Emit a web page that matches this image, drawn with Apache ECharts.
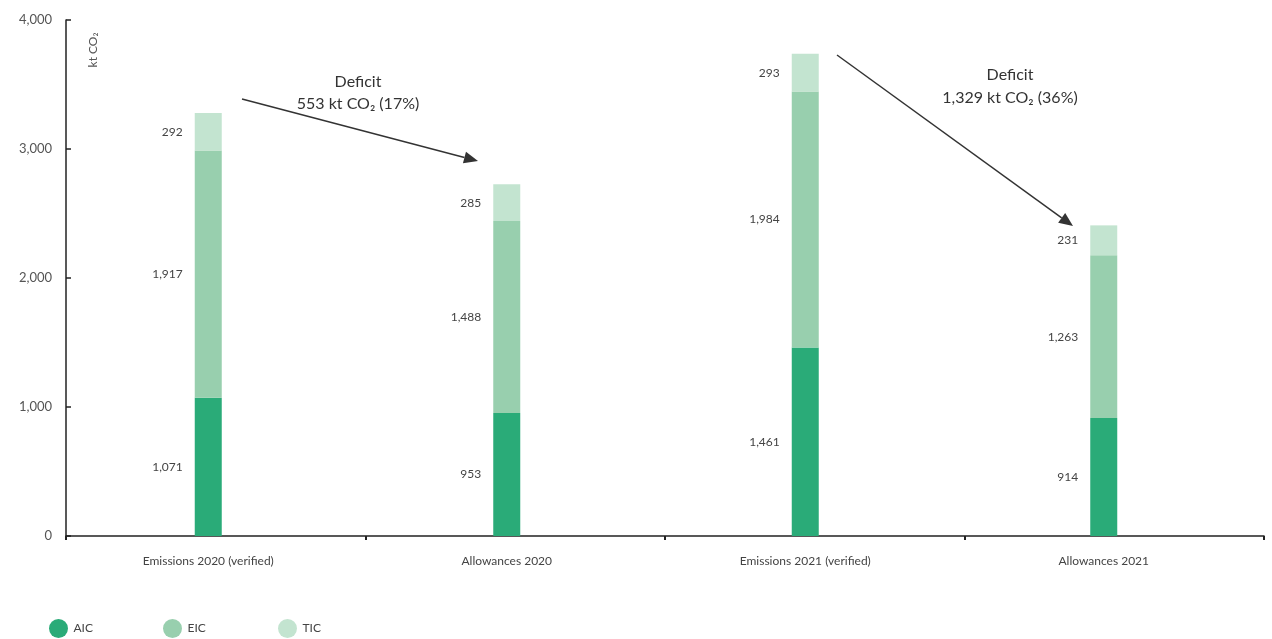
<!DOCTYPE html>
<html>
<head>
<meta charset="utf-8">
<script src="https://cdn.jsdelivr.net/npm/echarts@6/dist/echarts.min.js"></script>
<style>html,body{margin:0;padding:0;background:#fff}#c{width:1272px;height:639px}</style>
</head>
<body>
<div id="c"></div>
<script>
const categories = ['Emissions 2020 (verified)', 'Allowances 2020', 'Emissions 2021 (verified)', 'Allowances 2021'];
const aic = [1071, 953, 1461, 914];
const eic = [1917, 1488, 1984, 1263];
const tic = [292, 285, 293, 231];
const yTicks = [0, 1000, 2000, 3000, 4000];
const seriesNames = ['AIC', 'EIC', 'TIC'];
const deficitTexts = [['Deficit', '553 kt CO₂ (17%)'], ['Deficit', '1,329 kt CO₂ (36%)']];

const colors = {AIC: '#2aab78', EIC: '#98cfae', TIC: '#c3e4d0'};
const fontFam = 'Lato, "Open Sans", sans-serif';
const chart = echarts.init(document.getElementById('c'));

function fmt(v) { return v.toLocaleString('en-US'); }

const labelCfg = {
  show: true, position: 'left', distance: 12, color: '#444', fontSize: 12, fontFamily: fontFam,
  formatter: p => fmt(p.value)
};

function mk(name, data) {
  return {
    name, type: 'bar', stack: 'a', data, xAxisIndex: 1, yAxisIndex: 1,
    barWidth: 27, itemStyle: {color: colors[name]}, label: labelCfg
  };
}

const legendLefts = [44, 158, 273];
const option = {
  animation: false,
  textStyle: {fontFamily: fontFam},
  grid: [
    {left: 66, right: 8, top: 20, bottom: 103},
    {left: 59, right: 19, top: 20, bottom: 103}
  ],
  xAxis: [
    {type: 'category', gridIndex: 0, data: categories.map(() => ''),
     axisLine: {lineStyle: {color: '#222', width: 1.5}},
     axisTick: {show: true, length: 4, inside: false, lineStyle: {color: '#222', width: 2}},
     axisLabel: {show: false}},
    {type: 'category', gridIndex: 1, data: categories,
     axisLine: {show: false}, axisTick: {show: false},
     axisLabel: {color: '#444', fontSize: 12, margin: 19, fontFamily: fontFam}}
  ],
  yAxis: [
    {type: 'value', gridIndex: 0, min: yTicks[0], max: yTicks[yTicks.length - 1], interval: 1000,
     splitLine: {show: false},
     axisLine: {show: true, lineStyle: {color: '#222', width: 1.5}},
     axisTick: {show: true, inside: true, length: 5, lineStyle: {color: '#222', width: 1.5}},
     axisLabel: {color: '#555', fontSize: 13, margin: 14, formatter: v => fmt(v)}},
    {type: 'value', gridIndex: 1, min: yTicks[0], max: yTicks[yTicks.length - 1], show: false}
  ],
  legend: seriesNames.map((n, i) => ({
    left: legendLefts[i], top: 614, padding: 5, icon: 'circle', itemWidth: 20, itemHeight: 19,
    textStyle: {color: '#444', fontSize: 12, fontFamily: fontFam},
    data: [n]
  })),
  series: [mk('AIC', aic), mk('EIC', eic), mk('TIC', tic)],
  graphic: [
    {type: 'text', x: 93, y: 50, rotation: Math.PI / 2, style: {text: 'kt CO₂', fill: '#555', fontSize: 12, fontFamily: fontFam, align: 'center', verticalAlign: 'middle'}},
    {type: 'text', x: 358, y: 82, style: {text: deficitTexts[0][0], fill: '#333', fontSize: 16, fontFamily: fontFam, align: 'center', verticalAlign: 'middle'}},
    {type: 'text', x: 358, y: 104, style: {text: deficitTexts[0][1], fill: '#333', fontSize: 16, fontFamily: fontFam, align: 'center', verticalAlign: 'middle'}},
    {type: 'text', x: 1010, y: 75, style: {text: deficitTexts[1][0], fill: '#333', fontSize: 16, fontFamily: fontFam, align: 'center', verticalAlign: 'middle'}},
    {type: 'text', x: 1010, y: 98, style: {text: deficitTexts[1][1], fill: '#333', fontSize: 16, fontFamily: fontFam, align: 'center', verticalAlign: 'middle'}}
  ]
};
chart.setOption(option);

function arrow(x1, y1, x2, y2) {
  const ang = Math.atan2(y2 - y1, x2 - x1);
  const L = 14, W = 6;
  const bx = x2 - L * Math.cos(ang), by = y2 - L * Math.sin(ang);
  const px = -Math.sin(ang) * W, py = Math.cos(ang) * W;
  return [
    {type: 'line', shape: {x1, y1, x2: bx, y2: by}, style: {stroke: '#333', lineWidth: 1.5}},
    {type: 'polygon', shape: {points: [[x2, y2], [bx + px, by + py], [bx - px, by - py]]}, style: {fill: '#333'}}
  ];
}
const g = option.graphic.concat(arrow(242, 99, 478, 161), arrow(837, 55, 1073, 226));
chart.setOption({graphic: g});
</script>
</body>
</html>
